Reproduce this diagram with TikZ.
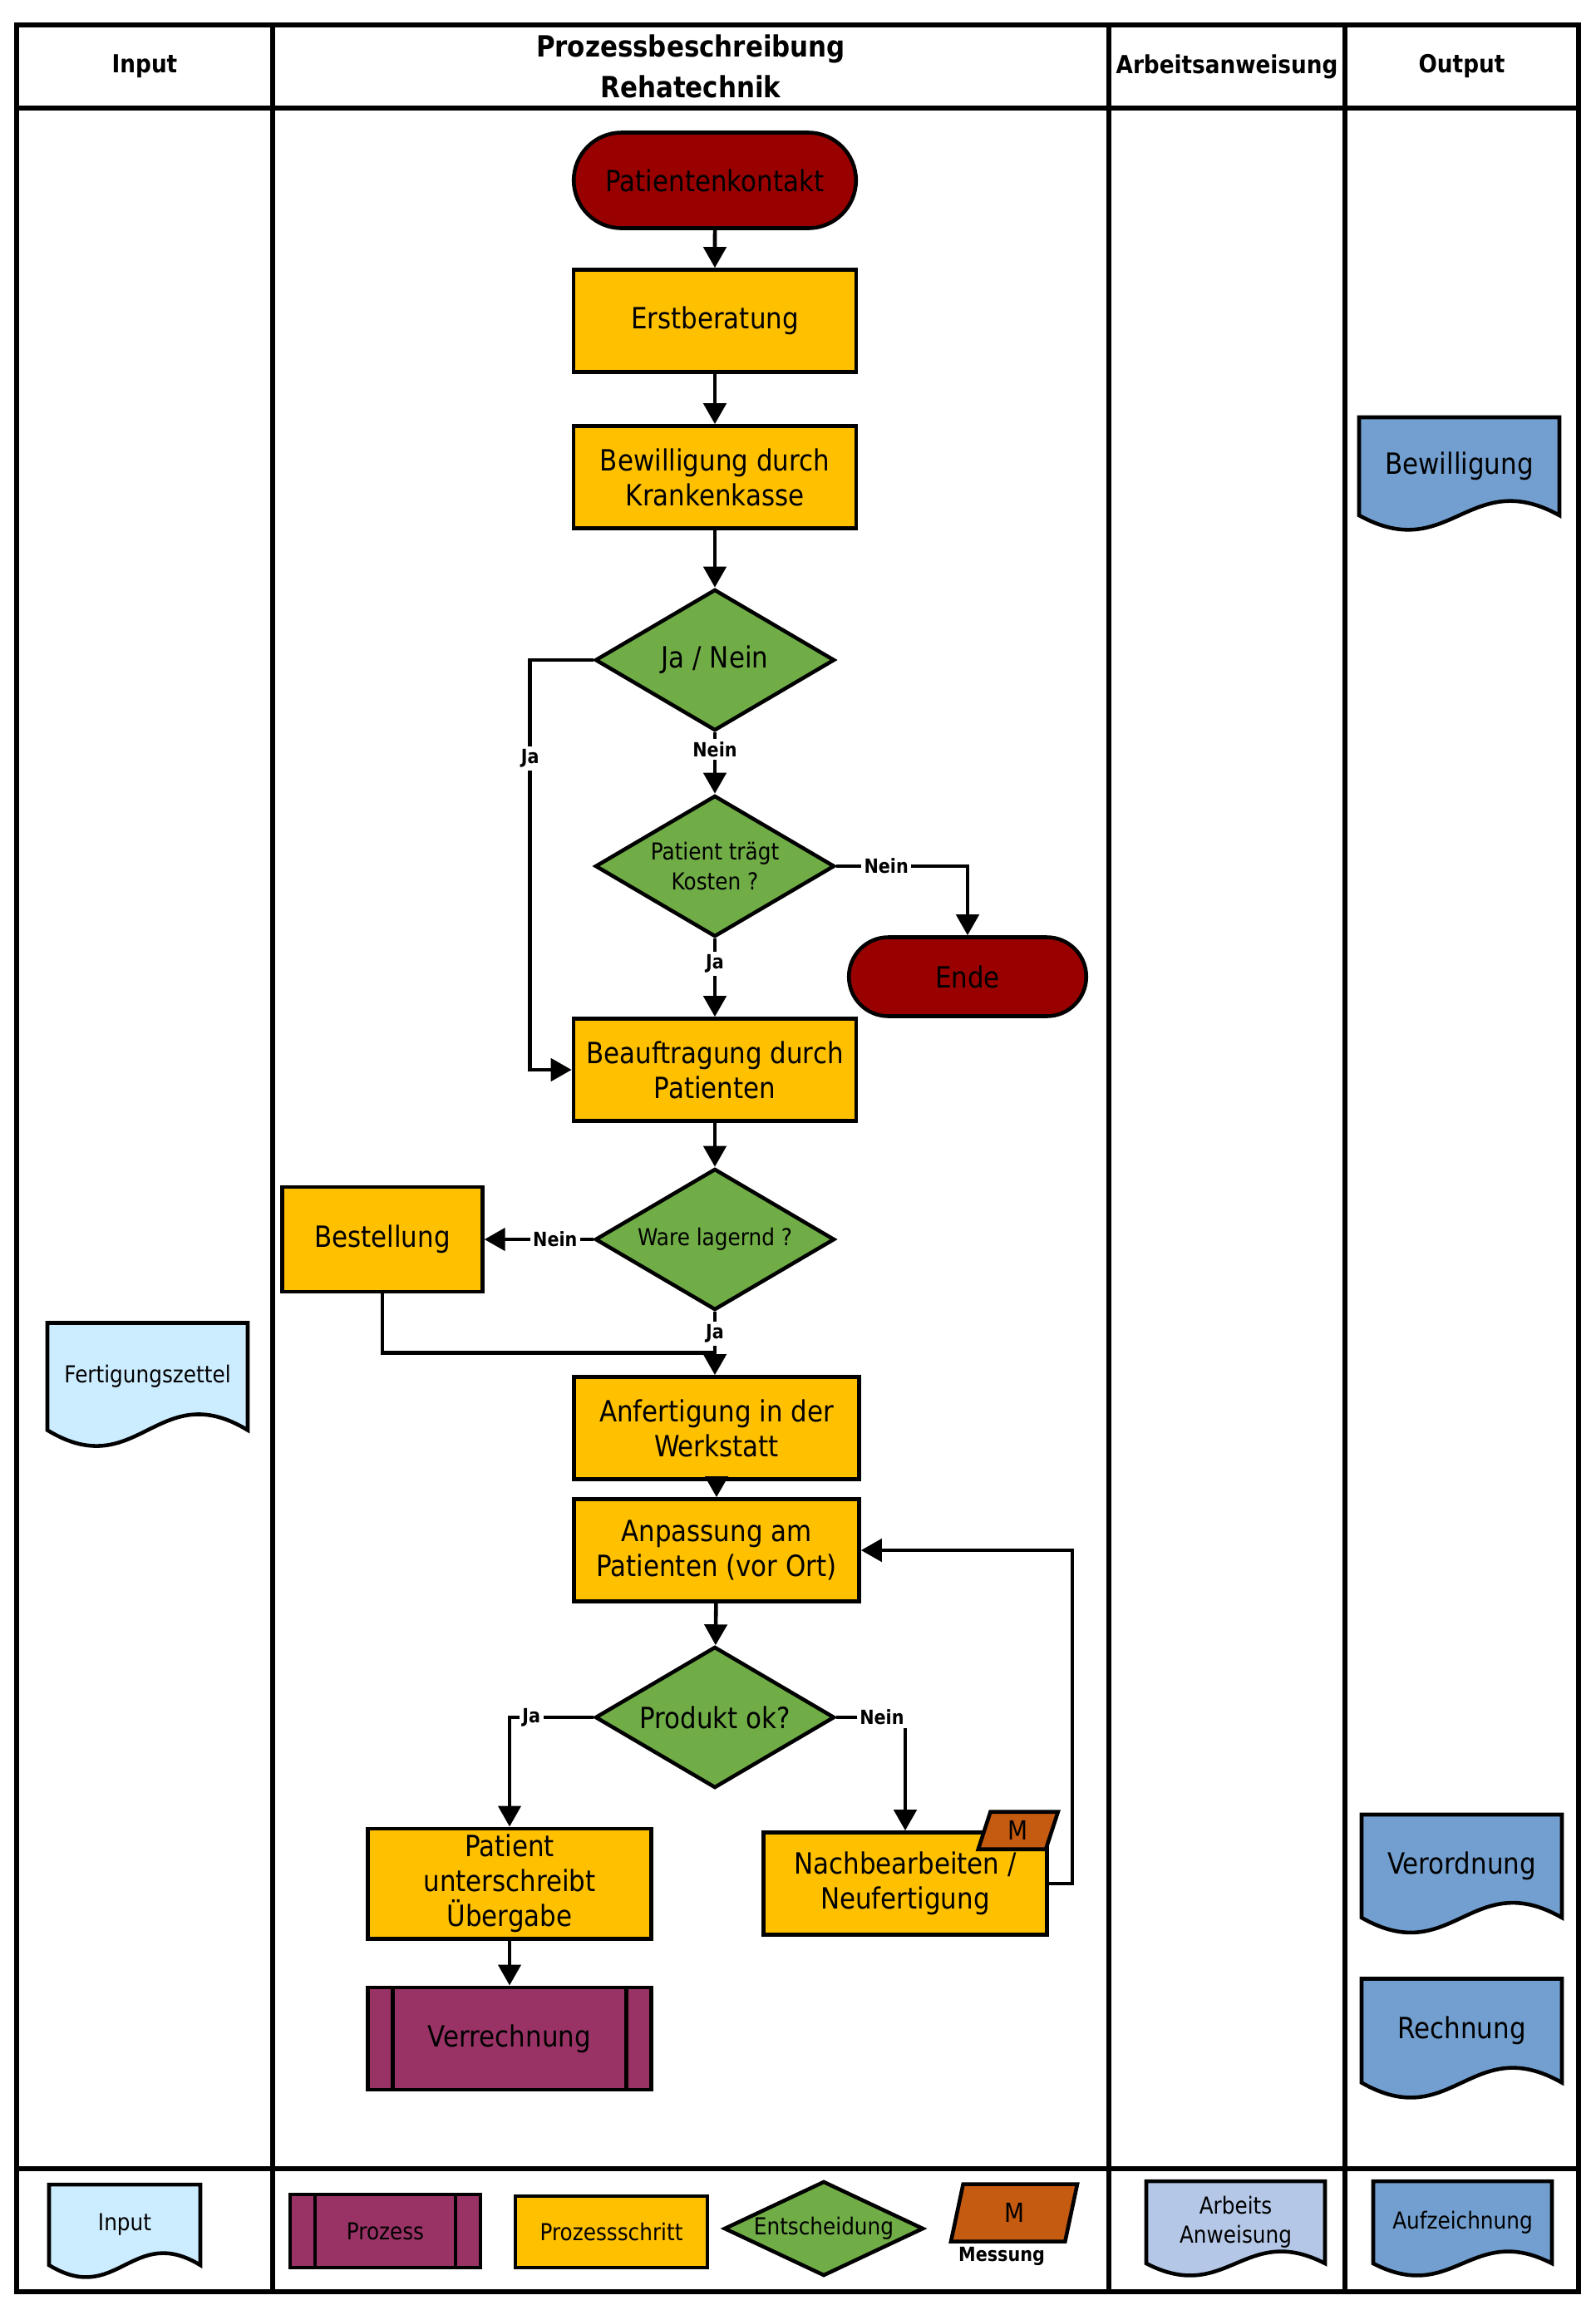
\documentclass[tikz,border=0pt]{standalone}
\usepackage{fontspec}
\setmainfont{DejaVu Sans}[FakeStretch=0.88]
\usetikzlibrary{
  arrows.meta,
  positioning,
  shapes.geometric,
  shapes.misc,
  calc,
  backgrounds
}
\definecolor{FlowRed}{HTML}{990000}
\definecolor{FlowYellow}{HTML}{FFC000}
\definecolor{FlowGreen}{HTML}{70AD47}
\definecolor{FlowPurple}{HTML}{993366}
\definecolor{FlowOrange}{HTML}{C55A11}
\definecolor{DocIn}{HTML}{CCECFF}
\definecolor{DocOut}{HTML}{729FCF}
\definecolor{DocWork}{HTML}{B4C7E7}

\begin{document}
\begin{tikzpicture}[
font=\fontsize{10pt}{12pt}\selectfont,
>={Triangle[length=2.5mm, width=2.7mm]},
shapeline/.style={draw=black, line width=1.3pt},
terminal/.style={
shapeline,
rounded rectangle,
fill=FlowRed,
minimum width=3.63cm,
minimum height=1.15cm
},
stepbox/.style={
shapeline,
rectangle,
fill=FlowYellow,
minimum width=3.4cm,
minimum height=1.23cm,
inner sep=2pt,
align=center
},
decision/.style={
shapeline,
diamond,
aspect=1.7,
fill=FlowGreen,
minimum width=2.88cm,
minimum height=1.7cm,
inner sep=0pt,
align=center
},
procbox/.style={
stepbox,
fill=FlowPurple,
path picture={
\draw[line width=1.3pt] ([xshift=0.3cm]path picture bounding box.north west) -- ([xshift=0.3cm]path picture bounding box.south west);
\draw[line width=1.3pt] ([xshift=-0.3cm]path picture bounding box.north east) -- ([xshift=-0.3cm]path picture bounding box.south east);
}
},
docu/.style={rectangle, outer sep=0pt, inner sep=2pt, minimum width=2.41cm, align=center},
tag/.style={
shapeline,
trapezium,
trapezium left angle=64,
trapezium right angle=116,
trapezium stretches body,
fill=FlowOrange,
inner sep=1pt
},
docline/.style={draw=black, line width=1.3pt},
arrow/.style={->, line width=1.3pt},
conn/.style={line width=1.3pt},
lbl/.style={font=\fontsize{6.7pt}{8pt}\selectfont\bfseries, fill=white, inner sep=1pt},
head/.style={font=\fontsize{8.5pt}{14pt}\selectfont\bfseries, align=center},
legendtext/.style={font=\fontsize{8pt}{10pt}\selectfont},
tableline/.style={line width=1.8pt}
]

\useasboundingbox (0,0) rectangle (19.2,-27.79);

% Table frame
\draw[tableline] (0.20,-0.30) rectangle (18.99,-27.57);
\draw[tableline] (0.20,-1.30) -- (18.99,-1.30);
\draw[tableline] (0.20,-26.09) -- (18.99,-26.09);
\foreach \x in {3.28, 13.34, 16.18}
  \draw[tableline] (\x,-0.30) -- (\x,-27.57);

% Column heads
\node[head] (hin) at (1.74,-0.80) {Input};
\node[head, font=\fontsize{10pt}{14pt}\selectfont\bfseries] (hproc) at (8.31,-0.80) {Prozessbeschreibung\\Rehatechnik};
\node[head] (hwork) at (14.76,-0.80) {Arbeitsanweisung};
\node[head] (hout) at (17.585,-0.80) {Output};

% Main flow
\node[terminal] (pk) at (8.6,-2.17) {Patientenkontakt};
\node[stepbox] (erst) at (8.6,-3.86) {Erstberatung};
\node[stepbox] (bew) at (8.6,-5.74) {Bewilligung durch\\Krankenkasse};
\node[decision] (jn) at (8.6,-7.94) {Ja / Nein};
\node[decision, font=\fontsize{8pt}{10pt}\selectfont] (ptk) at (8.6,-10.42) {Patient trägt\\Kosten ?};
\node[terminal, minimum width=3.09cm, minimum height=0.95cm] (ende) at (11.64,-11.75) {Ende};
\node[stepbox] (beauf) at (8.6,-12.87) {Beauftragung durch\\Patienten};
\node[decision, font=\fontsize{8pt}{10pt}\selectfont] (ware) at (8.6,-14.91) {Ware lagernd ?};
\node[stepbox, left=1.31cm of ware, minimum width=2.41cm, minimum height=1.26cm] (bestell) {Bestellung};
\node[stepbox, minimum width=3.43cm] (anf) at (8.62,-17.18) {Anfertigung in der\\Werkstatt};
\node[stepbox, minimum width=3.43cm] (anp) at (8.62,-18.65) {Anpassung am\\Patienten (vor Ort)};
\node[decision] (prod) at (8.6,-20.66) {Produkt ok?};
\node[stepbox, minimum width=3.41cm] (unter) at (6.13,-22.66) {Patient\\unterschreibt\\Übergabe};
\node[stepbox, minimum width=3.41cm] (nach) at (10.89,-22.66) {Nachbearbeiten /\\Neufertigung};
\node[tag, minimum width=0.96cm, minimum height=0.45cm, font=\fontsize{9pt}{10pt}\selectfont] (mtag) at ($(nach.north east)+(-0.37,0)$) {M};
\node[procbox, below=0.54cm of unter, minimum width=3.41cm] (verr) {Verrechnung};

% Input / output documents
\node[docu, minimum height=1.29cm, font=\fontsize{8pt}{10pt}\selectfont] (fert) at (1.775,-16.56) {Fertigungszettel};
\node[docu, minimum height=1.18cm] (obew) at (17.555,-5.61) {Bewilligung};
\node[docu, minimum height=1.24cm] (verord) at (17.585,-22.45) {Verordnung};
\node[docu, minimum height=1.25cm] (rechn) at (17.585,-24.43) {Rechnung};

% Legend
\node[docu, minimum width=1.82cm, minimum height=0.97cm, legendtext] (lin) at (1.50,-26.765) {Input};
\node[procbox, minimum width=2.29cm, minimum height=0.88cm, legendtext] (lproz) at (4.635,-26.84) {Prozess};
\node[stepbox, minimum width=2.31cm, minimum height=0.86cm, legendtext] (lschritt) at (7.355,-26.85) {Prozessschritt};
\node[decision, aspect=2.1, minimum width=2.40cm, minimum height=1.14cm, legendtext] (lent) at (9.91,-26.81) {Entscheidung};
\node[tag, minimum width=1.52cm, minimum height=0.69cm, font=\fontsize{9pt}{10pt}\selectfont] (lmess) at (12.20,-26.62) {M};
\node[lbl, fill=none, below=0cm of lmess, xshift=-0.15cm] (lmesslbl) {Messung};
\node[docu, minimum width=2.15cm, minimum height=0.99cm, legendtext] (larb) at (14.865,-26.735) {Arbeits\\Anweisung};
\node[docu, minimum width=2.15cm, minimum height=0.99cm, legendtext] (lauf) at (17.595,-26.735) {Aufzeichnung};

% Document outlines with wavy bottom
\begin{scope}[on background layer]
\foreach \n/\c/\a in {fert/DocIn/0.66, obew/DocOut/0.6, verord/DocOut/0.62, rechn/DocOut/0.62,
                      lin/DocIn/0.5, larb/DocWork/0.5, lauf/DocOut/0.5}
  \draw[docline, fill=\c] (\n.north west) -- (\n.north east) -- (\n.south east)
    .. controls ($(\n.south)!0.1!(\n.south east)+(0,\a)$) and ($(\n.south)!0.1!(\n.south west)+(0,-\a)$) .. (\n.south west) -- cycle;
\end{scope}

% Connectors
\coordinate (join) at ($(anf.north)+(0,0.27)$);
\draw[arrow] (pk) -- (erst);
\draw[arrow] (erst) -- (bew);
\draw[arrow] (bew) -- (jn);
\draw[arrow] (jn.west) -- ++(-0.76,0) |- node[lbl, pos=0.12] {Ja} (beauf.west);
\draw[arrow] (jn) -- node[lbl, pos=0.28] {Nein} (ptk);
\draw[arrow] (ptk.east) -| node[lbl, pos=0.19] {Nein} (ende.north);
\draw[arrow] (ptk) -- node[lbl, pos=0.32] {Ja} (beauf);
\draw[arrow] (beauf) -- (ware);
\draw[arrow] (ware) -- node[lbl, pos=0.35] {Nein} (bestell);
\draw[arrow] (ware.south) -- node[lbl, pos=0.34] {Ja} (ware.south |- anf.north);
\draw[conn] (bestell.south) |- (join);
\draw[arrow] (anf) -- (anp);
\draw[arrow] (anp) -- (prod);
\draw[arrow] (prod.west) -| node[lbl, pos=0.37] {Ja} (unter.north);
\draw[arrow] (prod.east) -| node[lbl, pos=0.33] {Nein} (nach.north);
\draw[arrow] (nach.east) -- ++(0.28,0) |- (anp.east);
\draw[arrow] (unter) -- (verr);

\end{tikzpicture}
\end{document}
